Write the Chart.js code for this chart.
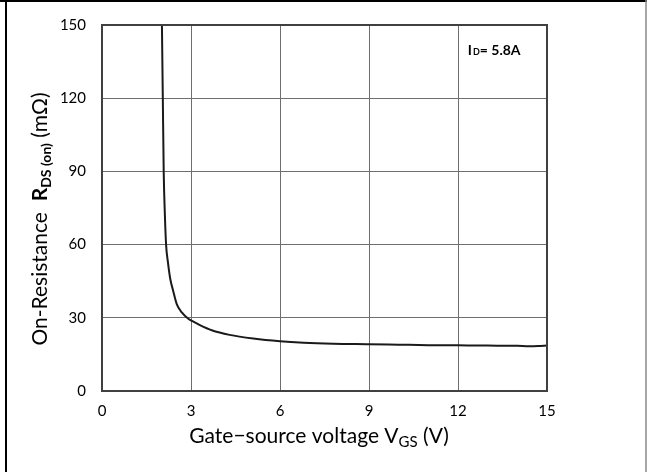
<!DOCTYPE html>
<html>
<head>
<meta charset="utf-8">
<script src="https://cdn.jsdelivr.net/npm/chart.js@4/dist/chart.umd.min.js"></script>
<style>
  html, body { margin: 0; padding: 0; background: #fff; }
  #wrap { width: 647px; height: 472px; }
</style>
</head>
<body>
<div id="wrap"><canvas id="c" width="647" height="472"></canvas></div>
<script>
// Gate-source voltage (V)
const vgs = [2.02, 2.05, 2.08, 2.12, 2.16, 2.22, 2.30, 2.40, 2.52, 2.69, 2.91, 3.05, 3.3, 3.7, 4.3, 5.1, 6.0, 6.8, 7.8, 9.0, 10.0, 11.0, 12.0, 13.0, 14.0, 14.4, 14.7, 15.0];
// On-resistance (mOhm)
const rdson = [150, 120, 90, 72, 60, 53, 46, 41, 35.6, 32.2, 29.6, 28.6, 27.0, 24.9, 23.0, 21.5, 20.4, 19.8, 19.4, 19.2, 19.0, 18.8, 18.7, 18.6, 18.5, 18.3, 18.4, 18.7];
const xTicks = [0, 3, 6, 9, 12, 15];
const yTicks = [0, 30, 60, 90, 120, 150];
const annotationText = ["I", "D", "= 5.8A"];

const FONT = "Lato, 'Open Sans', sans-serif";

const decor = {
  id: 'decor',
  beforeDraw(chart) {
    const ctx = chart.ctx;
    ctx.save();
    ctx.fillStyle = '#fff';
    ctx.fillRect(0, 0, chart.width, chart.height);
    ctx.restore();
  },
  afterDatasetsDraw(chart) {
    const ctx = chart.ctx;
    const a = chart.chartArea;
    ctx.save();
    // plot frame
    ctx.strokeStyle = '#404040';
    ctx.lineWidth = 2;
    ctx.strokeRect(Math.round(a.left), Math.round(a.top), Math.round(a.right - a.left), Math.round(a.bottom - a.top));
    // outer page frame
    ctx.strokeStyle = '#000';
    ctx.lineWidth = 2;
    ctx.beginPath();
    ctx.moveTo(0, 1); ctx.lineTo(chart.width, 1);
    ctx.moveTo(6, 0); ctx.lineTo(6, chart.height);
    ctx.stroke();
    ctx.strokeStyle = '#8a8a8a';
    ctx.lineWidth = 1.5;
    ctx.beginPath();
    ctx.moveTo(646, 0); ctx.lineTo(646, chart.height);
    ctx.stroke();

    ctx.fillStyle = '#000';
    // annotation
    const xs = chart.scales.x, ys = chart.scales.y;
    let ax = xs.getPixelForValue(12.33), ay = ys.getPixelForValue(137.8);
    ctx.textBaseline = 'alphabetic';
    ctx.textAlign = 'left';
    ctx.font = "bold 14px " + FONT;
    ctx.fillText(annotationText[0], ax, ay); ax += ctx.measureText(annotationText[0]).width + 1;
    ctx.font = "bold 9px " + FONT;
    ctx.fillText(annotationText[1], ax, ay); ax += ctx.measureText(annotationText[1]).width;
    ctx.font = "bold 14px " + FONT;
    ctx.fillText(annotationText[2], ax, ay);

    // x axis title
    const xParts = [
      {t: 'Gate\u2212source voltage V', f: "21px " + FONT, dy: 0},
      {t: 'GS', f: "15px " + FONT, dy: 4},
      {t: ' (V)', f: "21px " + FONT, dy: 0}
    ];
    let w = 0;
    xParts.forEach(p => { ctx.font = p.f; p.w = ctx.measureText(p.t).width; w += p.w; });
    let x = 319 - w / 2;
    xParts.forEach(p => { ctx.font = p.f; ctx.fillText(p.t, x, 443 + p.dy); x += p.w; });

    // y axis title (rotated)
    const yParts = [
      {t: 'On-Resistance  ', f: "21px " + FONT, dy: 0},
      {t: 'R', f: "bold 21px " + FONT, dy: 0},
      {t: 'DS (on)', f: "bold 14px " + FONT, dy: 4},
      {t: ' (m\u03A9)', f: "21px " + FONT, dy: 0}
    ];
    w = 0;
    yParts.forEach(p => { ctx.font = p.f; p.w = ctx.measureText(p.t).width; w += p.w; });
    ctx.translate(47, 219);
    ctx.rotate(-Math.PI / 2);
    x = -w / 2;
    yParts.forEach(p => { ctx.font = p.f; ctx.fillText(p.t, x, p.dy); x += p.w; });
    ctx.restore();
  }
};

new Chart(document.getElementById('c'), {
  type: 'line',
  data: {
    datasets: [{
      data: vgs.map((v, i) => ({x: v, y: rdson[i]})),
      borderColor: '#1a1a1a',
      borderWidth: 2,
      pointRadius: 0,
      cubicInterpolationMode: 'monotone',
      fill: false
    }]
  },
  options: {
    responsive: false,
    animation: false,
    events: [],
    layout: { padding: { top: 22, right: 100, left: 0, bottom: 0 } },
    plugins: { legend: { display: false }, tooltip: { enabled: false } },
    scales: {
      x: {
        type: 'linear', min: 0, max: 15,
        afterBuildTicks: s => { s.ticks = xTicks.map(v => ({value: v})); },
        afterFit: s => { s.height = 81; },
        grid: { color: '#6e6e6e', lineWidth: 1, drawTicks: false },
        border: { display: false },
        ticks: { color: '#000', font: { family: FONT, size: 15 }, padding: 11, maxRotation: 0 }
      },
      y: {
        type: 'linear', min: 0, max: 150,
        afterBuildTicks: s => { s.ticks = yTicks.map(v => ({value: v})); },
        afterFit: s => { s.width = 102; },
        grid: { color: '#6e6e6e', lineWidth: 1, drawTicks: false },
        border: { display: false },
        ticks: { color: '#000', font: { family: FONT, size: 15 }, padding: 16 }
      }
    }
  },
  plugins: [decor]
});
</script>
</body>
</html>
